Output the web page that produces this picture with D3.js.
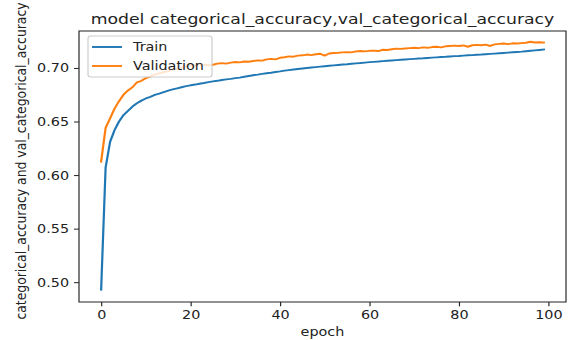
<!DOCTYPE html>
<html>
<head>
<meta charset="utf-8">
<script src="https://cdn.jsdelivr.net/npm/d3@7"></script>
<style>
  body { margin: 0; background: #fff; }
  svg { display: block; }
  text { font-family: "DejaVu Sans", sans-serif; fill: #222; }
</style>
</head>
<body>
<div id="chart"></div>
<script>
//values, one per epoch (0..99)
var epochs = d3.range(0, 100);

var trainAcc = [
  0.493, 0.607, 0.631, 0.642, 0.650, 0.656, 0.660, 0.664, 0.667, 0.6695,
  0.6715, 0.673, 0.6748, 0.676, 0.6775, 0.6788, 0.680, 0.681, 0.682, 0.683,
  0.6838, 0.6845, 0.6853, 0.686, 0.6868, 0.6875, 0.688, 0.6888, 0.6893, 0.6898,
  0.6905, 0.691, 0.6918, 0.6925, 0.6932, 0.6938, 0.6945, 0.695, 0.6955, 0.6962,
  0.6968, 0.6975, 0.698, 0.6985, 0.699, 0.6995, 0.700, 0.7004, 0.7008, 0.7012,
  0.7016, 0.702, 0.7024, 0.7028, 0.7032, 0.7035, 0.7039, 0.7043, 0.7046, 0.705,
  0.7054, 0.7057, 0.706, 0.7064, 0.7067, 0.707, 0.7073, 0.7076, 0.7079, 0.7082,
  0.7085, 0.7088, 0.709, 0.7093, 0.7096, 0.7099, 0.7102, 0.7104, 0.7107, 0.711,
  0.7112, 0.7115, 0.7118, 0.712, 0.7123, 0.7125, 0.7128, 0.7131, 0.7134, 0.7137,
  0.7140, 0.7143, 0.7146, 0.7149, 0.7152, 0.7156, 0.7160, 0.7164, 0.7168, 0.7172
];

var valAcc = [
  0.6125, 0.644, 0.653, 0.662, 0.669, 0.675, 0.679, 0.682, 0.6865, 0.688,
  0.6905, 0.692, 0.694, 0.695, 0.696, 0.697, 0.6985, 0.699, 0.700, 0.7015,
  0.7025, 0.702, 0.7035, 0.703, 0.7025, 0.703, 0.704, 0.7045, 0.704, 0.705,
  0.7055, 0.7052, 0.706, 0.7058, 0.7065, 0.707, 0.7068, 0.708, 0.7085, 0.708,
  0.7095, 0.710, 0.7108, 0.7105, 0.7115, 0.7118, 0.7125, 0.712, 0.7128, 0.7132,
  0.7115, 0.7135, 0.714, 0.7142, 0.7145, 0.7148, 0.7145, 0.7155, 0.7158, 0.7155,
  0.716, 0.7162, 0.7158, 0.717, 0.7168, 0.7175, 0.718, 0.7178, 0.7182, 0.7185,
  0.7188, 0.7185, 0.7192, 0.7188, 0.7195, 0.7198, 0.7192, 0.7202, 0.7205, 0.7208,
  0.7205, 0.721, 0.7198, 0.7212, 0.7215, 0.7212, 0.7218, 0.7205, 0.722, 0.7225,
  0.7228, 0.7222, 0.723, 0.7228, 0.7232, 0.7235, 0.7245, 0.7238, 0.724, 0.7237
];

var xTicks = [0, 20, 40, 60, 80, 100];
var yTicks = [0.50, 0.55, 0.60, 0.65, 0.70];
var seriesNames = ["Train", "Validation"];
var seriesColors = ["#1f77b4", "#ff7f0e"];

//the picture is stretched sideways, so the svg is drawn narrow and stretched back out
var width = 574,
  height = 340,
  stretch = 1.16,
  innerW = width / stretch;

var frame = { left: 79 / stretch, right: 566 / stretch, top: 31, bottom: 302 };

var svg = d3
  .select("#chart")
  .append("svg")
  .attr("width", width)
  .attr("height", height)
  .attr("viewBox", "0 0 " + innerW + " " + height)
  .attr("preserveAspectRatio", "none");

//matplotlib style 5% margins around the data
var x = d3.scaleLinear().domain([-4.95, 103.95]).range([frame.left, frame.right]);
var y = d3.scaleLinear().domain([0.4815, 0.7345]).range([frame.bottom, frame.top]);

//axes
var xAxis = svg
  .append("g")
  .attr("transform", "translate(0," + frame.bottom + ")")
  .call(d3.axisBottom(x).tickValues(xTicks).tickSize(4.3).tickPadding(4.3));

var yAxis = svg
  .append("g")
  .attr("transform", "translate(" + frame.left + ",0)")
  .call(d3.axisLeft(y).tickValues(yTicks).tickFormat(d3.format(".2f")).tickSize(4.3).tickPadding(4.3));

[xAxis, yAxis].forEach(function(a) {
  a.select(".domain").remove();
  a.selectAll("line").attr("stroke", "#222").attr("stroke-width", 1);
  a.selectAll("text").attr("font-size", 12.4).attr("fill", "#222");
});

//lines
var line = d3
  .line()
  .x(function(d, i) { return x(epochs[i]); })
  .y(function(d) { return y(d); });

[trainAcc, valAcc].forEach(function(s, i) {
  svg
    .append("path")
    .datum(s)
    .attr("d", line)
    .attr("fill", "none")
    .attr("stroke", seriesColors[i])
    .attr("stroke-width", 1.9)
    .attr("stroke-linejoin", "round")
    .attr("stroke-linecap", "square");
});

//frame
svg
  .append("rect")
  .attr("x", frame.left)
  .attr("y", frame.top)
  .attr("width", frame.right - frame.left)
  .attr("height", frame.bottom - frame.top)
  .attr("fill", "none")
  .attr("stroke", "#222")
  .attr("stroke-width", 1);

//title and axis labels
svg
  .append("text")
  .attr("x", (frame.left + frame.right) / 2)
  .attr("y", 24)
  .attr("text-anchor", "middle")
  .attr("font-size", 14.9)
  .text("model categorical_accuracy,val_categorical_accuracy");

svg
  .append("text")
  .attr("x", (frame.left + frame.right) / 2)
  .attr("y", 336)
  .attr("text-anchor", "middle")
  .attr("font-size", 12.4)
  .text("epoch");

svg
  .append("text")
  .attr("transform", "translate(" + 26 / stretch + "," + 161 + ") rotate(-90)")
  .attr("text-anchor", "middle")
  .attr("font-size", 12.4)
  .text("categorical_accuracy and val_categorical_accuracy");

//legend
var legend = svg.append("g").attr("transform", "translate(" + 88 / stretch + ",36)");

legend
  .append("rect")
  .attr("width", (212 - 88) / stretch)
  .attr("height", 41)
  .attr("rx", 2.5)
  .attr("fill", "#fff")
  .attr("fill-opacity", 0.8)
  .attr("stroke", "#ccc")
  .attr("stroke-width", 1);

seriesNames.forEach(function(name, i) {
  var ly = 11 + i * 19;
  legend
    .append("line")
    .attr("x1", (92 - 88) / stretch)
    .attr("x2", (122 - 88) / stretch)
    .attr("y1", ly)
    .attr("y2", ly)
    .attr("stroke", seriesColors[i])
    .attr("stroke-width", 1.9);
  legend
    .append("text")
    .attr("x", (133 - 88) / stretch)
    .attr("y", ly)
    .attr("dy", "0.35em")
    .attr("font-size", 12.4)
    .text(name);
});
</script>
</body>
</html>
